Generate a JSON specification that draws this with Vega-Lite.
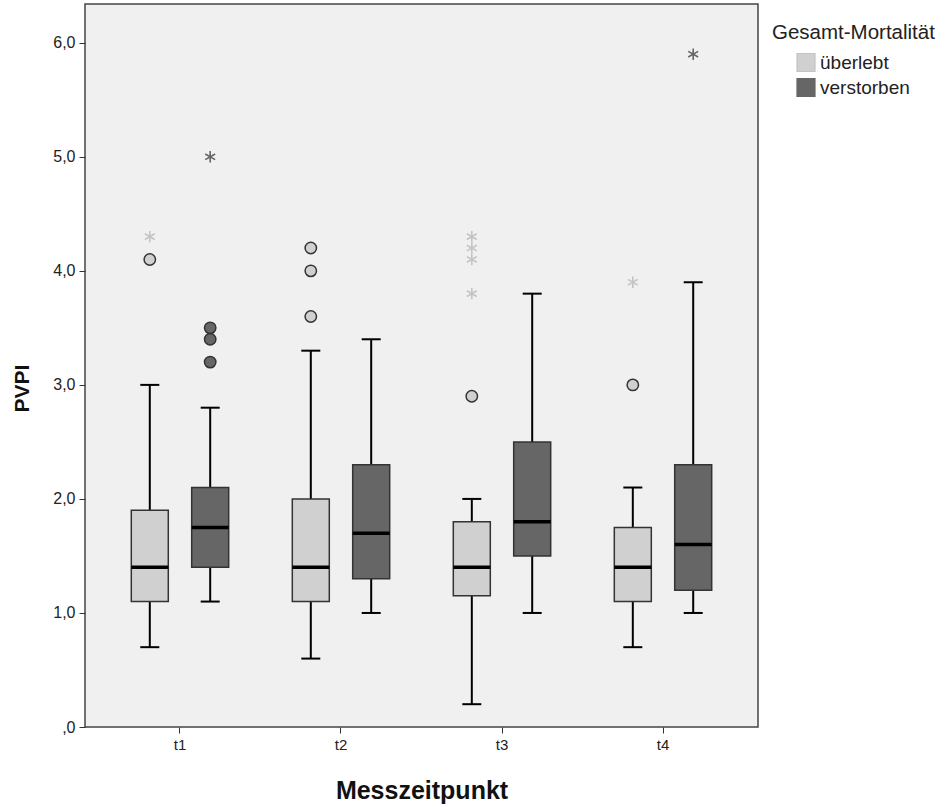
{
  "$schema": "https://vega.github.io/schema/vega-lite/v6.json",
  "autosize": "none",
  "width": 673,
  "height": 723,
  "padding": {"left": 85, "top": 4, "right": 188, "bottom": 80},
  "background": "white",
  "config": {
    "font": "Liberation Sans",
    "view": {"fill": "#f0f0f0", "stroke": "#444444", "strokeWidth": 1.5},
    "axis": {"labelFont": "Liberation Sans", "titleFont": "Liberation Sans", "labelColor": "#222222", "titleColor": "#111111", "tickColor": "#333333", "domain": false, "grid": false}
  },
  "datasets": {
    "boxes": [
      {"t": "t1", "g": "überlebt", "lo": 0.7, "q1": 1.1, "med": 1.4, "q3": 1.9, "hi": 3.0},
      {"t": "t1", "g": "verstorben", "lo": 1.1, "q1": 1.4, "med": 1.75, "q3": 2.1, "hi": 2.8},
      {"t": "t2", "g": "überlebt", "lo": 0.6, "q1": 1.1, "med": 1.4, "q3": 2.0, "hi": 3.3},
      {"t": "t2", "g": "verstorben", "lo": 1.0, "q1": 1.3, "med": 1.7, "q3": 2.3, "hi": 3.4},
      {"t": "t3", "g": "überlebt", "lo": 0.2, "q1": 1.15, "med": 1.4, "q3": 1.8, "hi": 2.0},
      {"t": "t3", "g": "verstorben", "lo": 1.0, "q1": 1.5, "med": 1.8, "q3": 2.5, "hi": 3.8},
      {"t": "t4", "g": "überlebt", "lo": 0.7, "q1": 1.1, "med": 1.4, "q3": 1.75, "hi": 2.1},
      {"t": "t4", "g": "verstorben", "lo": 1.0, "q1": 1.2, "med": 1.6, "q3": 2.3, "hi": 3.9}
    ],
    "outliers": [
      {"t": "t1", "g": "überlebt", "v": 4.1, "kind": "circle"},
      {"t": "t1", "g": "überlebt", "v": 4.3, "kind": "star"},
      {"t": "t1", "g": "verstorben", "v": 3.2, "kind": "circle"},
      {"t": "t1", "g": "verstorben", "v": 3.4, "kind": "circle"},
      {"t": "t1", "g": "verstorben", "v": 3.5, "kind": "circle"},
      {"t": "t1", "g": "verstorben", "v": 5.0, "kind": "star"},
      {"t": "t2", "g": "überlebt", "v": 3.6, "kind": "circle"},
      {"t": "t2", "g": "überlebt", "v": 4.0, "kind": "circle"},
      {"t": "t2", "g": "überlebt", "v": 4.2, "kind": "circle"},
      {"t": "t3", "g": "überlebt", "v": 2.9, "kind": "circle"},
      {"t": "t3", "g": "überlebt", "v": 3.8, "kind": "star"},
      {"t": "t3", "g": "überlebt", "v": 4.1, "kind": "star"},
      {"t": "t3", "g": "überlebt", "v": 4.2, "kind": "star"},
      {"t": "t3", "g": "überlebt", "v": 4.3, "kind": "star"},
      {"t": "t4", "g": "überlebt", "v": 3.0, "kind": "circle"},
      {"t": "t4", "g": "überlebt", "v": 3.9, "kind": "star"},
      {"t": "t4", "g": "verstorben", "v": 5.9, "kind": "star"}
    ]
  },
  "encoding": {
    "x": {
      "field": "t", "type": "nominal",
      "scale": {"paddingInner": 0, "paddingOuter": 0.09},
      "axis": {"title": "Messzeitpunkt", "labelAngle": 0, "labelFontSize": 15, "tickSize": 6, "labelPadding": 4, "titleFontSize": 25, "titleFontWeight": "bold", "titleY": 63, "titleBaseline": "middle"}
    },
    "xOffset": {"field": "g", "type": "nominal", "scale": {"domain": ["überlebt", "verstorben"], "paddingInner": 0, "paddingOuter": 0.333}}
  },
  "layer": [
    {
      "data": {"name": "boxes"},
      "mark": {"type": "rule", "color": "black", "strokeWidth": 2},
      "encoding": {
        "y": {
          "field": "lo", "type": "quantitative",
          "scale": {"domain": [0, 6.34], "nice": false, "zero": false},
          "axis": {"title": "PVPI", "values": [0, 1, 2, 3, 4, 5, 6], "labelExpr": "datum.value == 0 ? ',0' : replace(format(datum.value, '.1f'), '.', ',')", "labelFontSize": 16, "tickSize": 6, "labelPadding": 4, "titleFontSize": 21, "titleFontWeight": "bold", "titleX": -63, "titleY": 384, "titleBaseline": "middle"}
        },
        "y2": {"field": "hi"}
      }
    },
    {
      "data": {"name": "boxes"},
      "mark": {"type": "tick", "color": "black", "thickness": 2, "size": 19, "opacity": 1},
      "encoding": {"y": {"field": "lo", "type": "quantitative"}}
    },
    {
      "data": {"name": "boxes"},
      "mark": {"type": "tick", "color": "black", "thickness": 2, "size": 19, "opacity": 1},
      "encoding": {"y": {"field": "hi", "type": "quantitative"}}
    },
    {
      "data": {"name": "boxes"},
      "mark": {"type": "bar", "width": 37, "stroke": "#333333", "strokeWidth": 1.5, "opacity": 1},
      "encoding": {
        "y": {"field": "q1", "type": "quantitative"},
        "y2": {"field": "q3"},
        "fill": {
          "field": "g", "type": "nominal",
          "scale": {"domain": ["überlebt", "verstorben"], "range": ["#d0d0d0", "#666666"]},
          "legend": {
            "title": "Gesamt-Mortalität", "orient": "none", "legendX": 687, "legendY": 19,
            "titleFontSize": 20.5, "titleFontWeight": "normal", "titleColor": "#222222", "titlePadding": 9,
            "labelFontSize": 19, "labelColor": "#222222", "labelOffset": 4,
            "symbolType": "square", "symbolSize": 324, "symbolStrokeColor": "#333333", "symbolStrokeWidth": 1.2, "symbolOffset": 24,
            "rowPadding": 1
          }
        }
      }
    },
    {
      "data": {"name": "boxes"},
      "mark": {"type": "tick", "color": "black", "thickness": 3.5, "size": 37, "opacity": 1},
      "encoding": {"y": {"field": "med", "type": "quantitative"}}
    },
    {
      "data": {"name": "outliers"},
      "transform": [{"filter": "datum.kind == 'circle'"}],
      "mark": {"type": "point", "shape": "circle", "filled": true, "size": 130, "stroke": "#333333", "strokeWidth": 1.5, "opacity": 1},
      "encoding": {
        "y": {"field": "v", "type": "quantitative"},
        "color": {"field": "g", "type": "nominal", "scale": {"domain": ["überlebt", "verstorben"], "range": ["#d0d0d0", "#666666"]}, "legend": null}
      }
    },
    {
      "data": {"name": "outliers"},
      "transform": [{"filter": "datum.kind == 'star'"}],
      "mark": {"type": "point", "shape": "M0,-1L0,1M-0.87,-0.5L0.87,0.5M-0.87,0.5L0.87,-0.5", "filled": false, "size": 130, "strokeWidth": 1.6, "opacity": 1},
      "encoding": {
        "y": {"field": "v", "type": "quantitative"},
        "stroke": {"field": "g", "type": "nominal", "scale": {"domain": ["überlebt", "verstorben"], "range": ["#c4c4c4", "#666666"]}, "legend": null}
      }
    }
  ]
}
